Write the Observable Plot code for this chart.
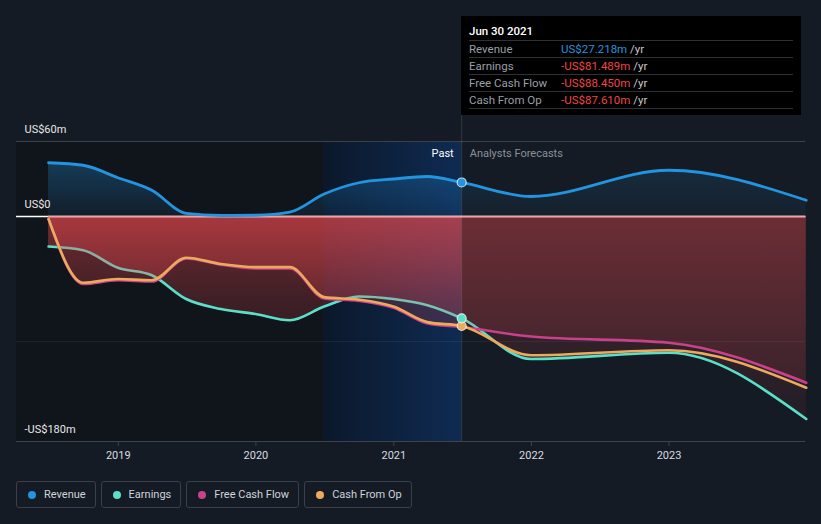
<!DOCTYPE html>
<html><head><meta charset="utf-8">
<script src="https://cdn.jsdelivr.net/npm/d3@7"></script>
<script src="https://cdn.jsdelivr.net/npm/@observablehq/plot@0.6"></script>
<style>
body{margin:0;background:#151b24;font-family:Roboto,"Noto Sans",sans-serif;}
#wrap{position:relative;width:821px;height:524px;overflow:hidden;background:#151b24;}
#chart svg{display:block;background:transparent;}
#tip{position:absolute;left:461px;top:16px;width:340px;height:99px;background:#000;}
#tip .title{position:absolute;left:8px;top:8px;color:#fff;font-size:11.5px;font-weight:500;}
#tip .row{position:absolute;left:8px;width:324px;height:17px;border-top:1px solid #2e3136;font-size:11.5px;line-height:17px;}
#tip .lab{position:absolute;left:0;color:#9a9ea6;}
#tip .val{position:absolute;left:92px;white-space:nowrap;}
#tip .yr{color:#c8c8c8;}
#legend{position:absolute;left:16px;top:481px;display:flex;gap:5px;}
#legend .item{box-sizing:border-box;height:27px;border:1px solid #3a3f4a;border-radius:3px;display:flex;align-items:center;padding:0 9px 0 11px;color:#cfd3d9;font-size:11px;}
#legend .dot{width:8px;height:8px;border-radius:50%;margin-right:8px;}
</style></head><body>
<div id="wrap"><div id="chart"></div>
<div id="tip"></div>
<div id="legend"></div>
</div>
<script>
// ---- data ----
const dates = ["2018-06-30","2018-09-30","2018-12-31","2019-03-31","2019-06-30","2019-09-30","2019-12-31","2020-03-31","2020-06-30","2020-09-30","2020-12-31","2021-03-31","2021-06-30","2021-12-31","2022-12-31","2023-12-31"];
const revenue  = [43, 41, 31, 21, 2.5, 0.8, 1, 3.5, 18, 27, 30, 32, 27.218, 16, 37, 13];
const earnings = [-24, -27, -41, -47, -66, -74, -78, -83, -72, -64, -66, -71, -81.489, -114, -109, -162];
const fcf      = [-2, -54, -51, -52, -33.5, -38.5, -41.5, -41.5, -65.5, -67.5, -73, -85.5, -88.45, -96, -101, -133];
const cfo      = [-2, -53, -50, -51, -33, -38, -40.5, -40.5, -64.5, -66.5, -72, -84.5, -87.61, -111, -107, -137];
const seriesNames = ["Revenue", "Earnings", "Free Cash Flow", "Cash From Op"];
const seriesColors = ["#2394df", "#5ae0c8", "#c9418a", "#ecaa5c"];
const yTicks = [60, 0, -180];
const yTickLabels = ["US$60m", "US$0", "-US$180m"];
const xTickYears = ["2019-01-01","2020-01-01","2021-01-01","2022-01-01","2023-01-01"];
const tipTitle = "Jun 30 2021";
const tipValues = ["US$27.218m", "-US$81.489m", "-US$88.450m", "-US$87.610m"];
const nowDateStr = "2021-06-30";
const bandStartStr = "2020-06-30";

const data = dates.map((d, i) => ({date: new Date(d), revenue: revenue[i], earnings: earnings[i], fcf: fcf[i], cfo: cfo[i]}));
const nowDate = new Date(nowDateStr);
const bandStart = new Date(bandStartStr);
const xDomain = [new Date("2018-04-06"), new Date("2023-12-29")];
const yDomain = [-180, 60];
const W = 821, H = 470, ML = 16, MR = 16, MT = 141, MB = 29;
const curve = "monotone-x";
const nowRow = data.find(d => +d.date === +nowDate);

// each area is drawn twice: once for the past part and once for the forecast part (clipped afterwards)
const areaPair = key => [
  Plot.areaY(data, {x: "date", y: key, curve, fill: "#888888"}),
  Plot.areaY(data, {x: "date", y: key, curve, fill: "#888888"})
];

const plot = Plot.plot({
  width: W, height: H,
  marginLeft: ML, marginRight: MR, marginTop: MT, marginBottom: MB,
  x: {type: "utc", domain: xDomain, axis: null},
  y: {domain: yDomain, axis: null},
  style: {background: "transparent", fontFamily: "Roboto, 'Noto Sans', sans-serif"},
  marks: [
    Plot.rect([0], {x1: () => xDomain[0], x2: () => bandStart, y1: -180, y2: 60, fill: "#10141b"}),
    Plot.rect([0], {x1: () => bandStart, x2: () => nowDate, y1: -180, y2: 60, fill: "#0d1f3a"}),
    Plot.ruleY([60], {stroke: "#3b414b"}),
    Plot.ruleY([-100], {stroke: "#ffffff", strokeOpacity: 0.06}),
    ...areaPair("revenue"),
    ...areaPair("earnings"),
    Plot.line(data, {x: "date", y: "earnings", curve, stroke: seriesColors[1], strokeWidth: 2.6}),
    ...areaPair("fcf"),
    Plot.ruleY([0], {stroke: "#ffffff", strokeWidth: 1.3}),
    Plot.ruleY([0], {x1: () => data[0].date, x2: () => data[data.length-1].date, stroke: "#f2a2a2", strokeWidth: 1.3}),
    Plot.line(data, {x: "date", y: "revenue", curve, stroke: seriesColors[0], strokeWidth: 2.8}),
    Plot.line(data, {x: "date", y: "fcf", curve, stroke: seriesColors[2], strokeWidth: 2.6}),
    Plot.line(data, {x: "date", y: "cfo", curve, stroke: seriesColors[3], strokeWidth: 2.6}),
    Plot.ruleX([nowDate], {y1: -180, y2: 80.8, stroke: "#ffffff", strokeOpacity: 0.13}),
    Plot.dot([nowRow], {x: "date", y: "revenue", r: 4.5, fill: seriesColors[0], stroke: "#ffffff", strokeOpacity: 0.75, strokeWidth: 1.2}),
    Plot.dot([nowRow], {x: "date", y: "cfo", r: 4.5, fill: seriesColors[3], stroke: "#ffffff", strokeOpacity: 0.75, strokeWidth: 1.2}),
    Plot.dot([nowRow], {x: "date", y: "earnings", r: 4.5, fill: seriesColors[1], stroke: "#ffffff", strokeOpacity: 0.75, strokeWidth: 1.2}),
    Plot.text(["Past"], {x: () => nowDate, y: 50.4, dx: -8, text: d => d, textAnchor: "end", fill: "#ffffff", fontSize: 11}),
    Plot.text(["Analysts Forecasts"], {x: () => nowDate, y: 50.4, dx: 8, text: d => d, textAnchor: "start", fill: "#8b9099", fontSize: 11}),
    Plot.text(yTicks, {x: () => xDomain[0], y: d => d, dx: 8, dy: -12, text: (d, i) => yTickLabels[i], textAnchor: "start", fill: "#e8e8e8", fontSize: 11}),
    Plot.ruleY([-180], {stroke: "#3d434d", strokeWidth: 1.2}),
    Plot.axisX(xTickYears.map(d => new Date(d)), {tickFormat: "%Y", tickSize: 5, tickPadding: 5, stroke: "#3d434d", fill: "#d8dbe0", fontSize: 11})
  ]
});

document.getElementById("chart").append(plot);

// gradients and clip paths (pixel positions derived from the same domain/range as the plot)
const px = d => ML + (d - xDomain[0]) / (xDomain[1] - xDomain[0]) * (W - ML - MR);
const py = v => MT + (yDomain[1] - v) / (yDomain[1] - yDomain[0]) * (H - MT - MB);
const xNow = px(nowDate);
const svg = d3.select(plot);
const defs = svg.insert("defs", ":first-child");
function grad(id, y1, y2, color, stops) {
  const g = defs.append("linearGradient").attr("id", id).attr("gradientUnits", "userSpaceOnUse")
    .attr("x1", 0).attr("x2", 0).attr("y1", y1).attr("y2", y2);
  stops.forEach(([o, a]) => g.append("stop").attr("offset", o).attr("stop-color", color).attr("stop-opacity", a));
}
grad("revGrad", py(45), py(0), "#2394df", [[0, 0.32], [1, 0.08]]);
grad("revGradF", py(45), py(0), "#2394df", [[0, 0.16], [1, 0.04]]);
grad("negGrad", py(0), py(-180), "#f34a4f", [[0, 0.42], [0.39, 0.2], [1, 0.06]]);
grad("negGradF", py(0), py(-180), "#f34a4f", [[0, 0.22], [0.51, 0.13], [1, 0.05]]);
const bg = defs.append("linearGradient").attr("id", "bandGrad").attr("x1", 0).attr("x2", 1).attr("y1", 0).attr("y2", 0);
bg.append("stop").attr("offset", 0).attr("stop-color", "#0b182b");
bg.append("stop").attr("offset", 1).attr("stop-color", "#0f2b52");
defs.append("clipPath").attr("id", "clipPast").append("rect").attr("x", 0).attr("y", 0).attr("width", xNow).attr("height", H);
defs.append("clipPath").attr("id", "clipFc").append("rect").attr("x", xNow).attr("y", 0).attr("width", W - xNow).attr("height", H);
function styleNode(node, fillUrl, clipUrl) {
  if (!node) return;
  const g = d3.select(node);
  if (clipUrl) g.attr("clip-path", clipUrl);
  g.attr("fill", fillUrl);
  g.selectAll("path, rect").attr("fill", fillUrl);
}
const areaGroups = plot.querySelectorAll('g[aria-label="area"]');
const areaStyles = [
  ["url(#revGrad)", "url(#clipPast)"], ["url(#revGradF)", "url(#clipFc)"],
  ["url(#negGrad)", "url(#clipPast)"], ["url(#negGradF)", "url(#clipFc)"],
  ["url(#negGrad)", "url(#clipPast)"], ["url(#negGradF)", "url(#clipFc)"]
];
areaGroups.forEach((n, i) => { if (areaStyles[i]) styleNode(n, areaStyles[i][0], areaStyles[i][1]); });
const rectGroups = plot.querySelectorAll('g[aria-label="rect"]');
styleNode(rectGroups[1], "url(#bandGrad)", null);

// tooltip
const tip = d3.select("#tip");
tip.append("div").attr("class", "title").text(tipTitle);
const rowTops = [24, 41, 58, 75];
seriesNames.forEach((n, i) => {
  const r = tip.append("div").attr("class", "row").style("top", rowTops[i] + "px");
  r.append("span").attr("class", "lab").text(n);
  const v = r.append("span").attr("class", "val");
  v.append("span").style("color", i === 0 ? "#2394df" : "#f04444").text(tipValues[i]);
  v.append("span").attr("class", "yr").text(" /yr");
});
tip.append("div").attr("class", "row").style("top", "92px").style("height", "0px");

// legend
const lg = d3.select("#legend");
seriesNames.forEach((n, i) => {
  const it = lg.append("div").attr("class", "item");
  it.append("div").attr("class", "dot").style("background", seriesColors[i]);
  it.append("span").text(n);
});
</script>
</body></html>
